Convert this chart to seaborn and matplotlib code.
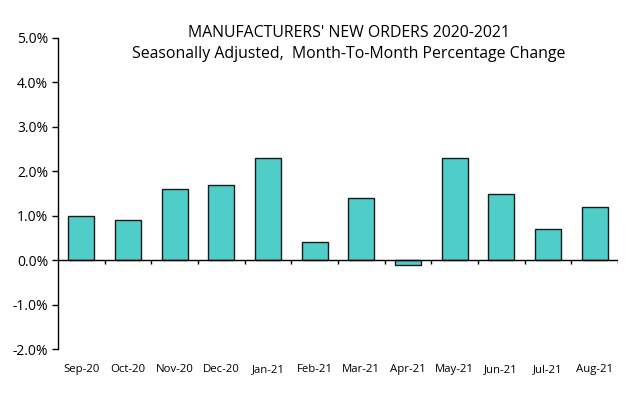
import numpy as np
import pandas as pd
import matplotlib.pyplot as plt
import matplotlib.ticker as mticker
import seaborn as sns

# ── Data ─────────────────────────────────────────────────────
months = ["Sep-20", "Oct-20", "Nov-20", "Dec-20", "Jan-21", "Feb-21",
          "Mar-21", "Apr-21", "May-21", "Jun-21", "Jul-21", "Aug-21"]
pct_change = [1.0, 0.9, 1.6, 1.7, 2.3, 0.4, 1.4, -0.1, 2.3, 1.5, 0.7, 1.2]

df = pd.DataFrame({"Month": months, "Change": pct_change})

# ── Style ────────────────────────────────────────────────────
sns.set_theme(style="white")
plt.rcParams["font.family"] = ["Open Sans", "DejaVu Sans"]

fig = plt.figure(figsize=(6.39, 3.94), dpi=100)
ax = fig.add_axes([0.0908, 0.114, 0.8762, 0.7896])

sns.barplot(data=df, x="Month", y="Change", color="#4ECDC9",
            saturation=1, width=0.56, edgecolor="#1a1a1a",
            linewidth=1.0, ax=ax)

ax.set_ylim(-2.0, 5.0)
ax.set_xlim(-0.5, len(months) - 0.5)
ax.yaxis.set_major_locator(mticker.MultipleLocator(1.0))
ax.yaxis.set_major_formatter(mticker.FormatStrFormatter("%.1f%%"))

for side in ["top", "right", "bottom"]:
    ax.spines[side].set_visible(False)
ax.spines["left"].set_color("black")
ax.spines["left"].set_linewidth(1.0)

# zero line with category boundary ticks
ax.axhline(0, color="black", linewidth=1.0, zorder=3)
bounds = np.arange(0.5, len(months), 1.0)
ax.vlines(bounds, -0.09, 0, color="black", linewidth=1.0, zorder=3)

ax.tick_params(axis="y", which="major", left=True, length=4, width=1,
               color="black", labelsize=10, pad=3, labelcolor="black")
ax.tick_params(axis="x", length=0, labelsize=8.2, pad=11, labelcolor="black")
ax.set_xlabel("")
ax.set_ylabel("")

fig.text(349 / 639, 1 - 37 / 394, "MANUFACTURERS' NEW ORDERS 2020-2021",
         ha="center", va="baseline", fontsize=11.4, color="black")
fig.text(349 / 639, 1 - 58 / 394,
         "Seasonally Adjusted,  Month-To-Month Percentage Change",
         ha="center", va="baseline", fontsize=11.4, color="black")

fig.savefig("out.png", dpi=100)
